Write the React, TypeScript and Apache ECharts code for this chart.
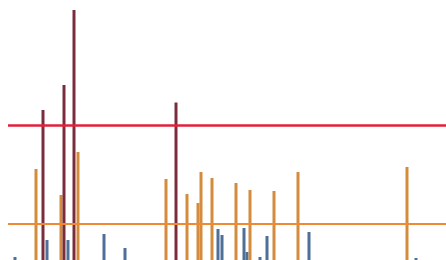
import React, { useEffect, useRef } from "react";
import * as echarts from "echarts";

// x positions (index units) and heights for each group
const redX = [35, 56, 66, 168];
const redY = [60, 70, 100, 63];
const orangeX = [28, 53, 70, 158, 179, 190, 193, 204, 228, 242, 266, 290, 399];
const orangeY = [36.4, 26, 43.2, 32.4, 26.4, 22.8, 35.2, 32.8, 30.8, 28, 27.6, 35.2, 37.2];
const blueX = [7, 39, 60, 96, 117, 210, 214, 236, 239, 252, 259, 301, 408];
const blueY = [1.2, 8, 8, 10.4, 4.8, 12.4, 10, 12.8, 3.2, 1.2, 9.6, 11.2, 0.8];
const upperThreshold = 54;
const lowerThreshold = 14.4;

const zip = (xs: number[], ys: number[]) => xs.map((x, i) => [x, ys[i]]);

export default function App() {
  const ref = useRef<HTMLDivElement>(null);
  useEffect(() => {
    if (!ref.current) return;
    const chart = echarts.init(ref.current, null, { renderer: "svg" });
    chart.setOption({
      animation: false,
      backgroundColor: "#ffffff",
      grid: { left: 8, right: 0, top: 0, bottom: 0 },
      xAxis: { type: "value", min: 0, max: 438, show: false },
      yAxis: { type: "value", min: 0, max: 104, show: false },
      series: [
        {
          type: "bar",
          barWidth: 3,
          barGap: "-100%",
          data: zip(blueX, blueY),
          itemStyle: { color: "#4d6f98" },
        },
        {
          type: "bar",
          barWidth: 3,
          barGap: "-100%",
          data: zip(orangeX, orangeY),
          itemStyle: { color: "#d48c3c" },
        },
        {
          type: "bar",
          barWidth: 3,
          barGap: "-100%",
          data: zip(redX, redY),
          itemStyle: { color: "#7a2c3c" },
          markLine: {
            silent: true,
            symbol: "none",
            label: { show: false },
            data: [
              { yAxis: upperThreshold, lineStyle: { color: "#e2203a", width: 2.5, type: "solid" } },
              { yAxis: lowerThreshold, lineStyle: { color: "#f08a32", width: 2, type: "solid" } },
            ],
          },
        },
      ],
    });
    return () => chart.dispose();
  }, []);
  return (
    <div
      ref={ref}
      style={{ position: "fixed", left: 0, top: 0, width: 446, height: 260 }}
    />
  );
}
